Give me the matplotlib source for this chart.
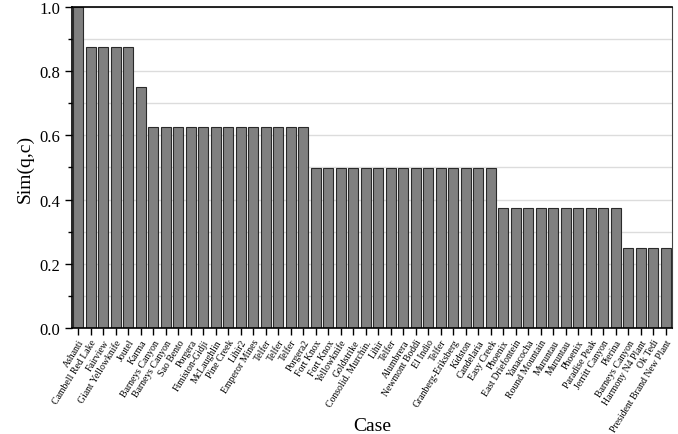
import numpy as np
import matplotlib.pyplot as plt
from matplotlib.ticker import MultipleLocator

cases = ['Ashanti', 'Cambell Red Lake', 'Fairview', 'Giant Yellowknife', 'Joutel', 'Karma',
         'Barneys Canyon', 'Barneys Canyon', 'Sao Bento', 'Porgera', 'Fimiston-Gidji',
         'McLaughlin', 'Pine Creek', 'Lihir2', 'Emperor Mines', 'Telfer', 'Telfer', 'Telfer',
         'Porgera2', 'Fort Knox', 'Fort Knox', 'Yellowknife', 'Goldstrike', 'Consolid. Murchin.',
         'Lihir', 'Telfer', 'Alumbrera', 'Newmont Boddi', 'El Indio', 'Telfer',
         'Granberg-Eriksberg', 'Kidston', 'Candelaria', 'Easy Creek', 'Phoenix',
         'East Driefontein', 'Yanacocha', 'Round Mountain', 'Muruntau', 'Muruntau', 'Phoenix',
         'Paradise Peak', 'Jerritt Canyon', 'Pierina', 'Barneys Canyon', 'Harmony N4 Plant',
         'Ok Tedi', 'President Brand New Plant']
sim = [1.0] + [0.875] * 4 + [0.75] + [0.625] * 13 + [0.5] * 15 + [0.375] * 10 + [0.25] * 4

plt.rcParams['font.family'] = ['Liberation Serif', 'DejaVu Serif']

fig = plt.figure(figsize=(6.78, 4.35), dpi=100)
ax = fig.add_axes([72 / 678, 1 - 329 / 435, 600 / 678, 321 / 435])

x = np.arange(len(cases))
ax.bar(x, sim, width=0.82, color='#808080', edgecolor='#2a2a2a', linewidth=0.8, zorder=2)

ax.set_xlim(-0.5, len(cases) - 0.5)
ax.set_ylim(0, 1.0)
ax.yaxis.set_minor_locator(MultipleLocator(0.1))
ax.set_yticks(np.arange(0, 1.01, 0.2))
ax.set_yticklabels(['%.1f' % v for v in np.arange(0, 1.01, 0.2)], fontsize=12)
ax.grid(axis='y', which='both', color='#dcdcdc', linewidth=1.0, zorder=0)

ax.set_xticks(x)
ax.set_xticklabels(cases, rotation=58, ha='right', rotation_mode='anchor', fontsize=7)
ax.tick_params(axis='x', length=5, width=1, pad=2)
ax.tick_params(axis='y', which='major', length=5, width=1)
ax.tick_params(axis='y', which='minor', length=3, width=1)

for s in ['left', 'bottom', 'top']:
    ax.spines[s].set_linewidth(1.2)
ax.spines['right'].set_color('#444444')

ax.set_ylabel('Sim(q,c)', fontsize=14)
ax.set_xlabel('Case', fontsize=14)
ax.xaxis.set_label_coords(300 / 600, -(418 - 329) / 321)

fig.savefig('out.png', dpi=100)
